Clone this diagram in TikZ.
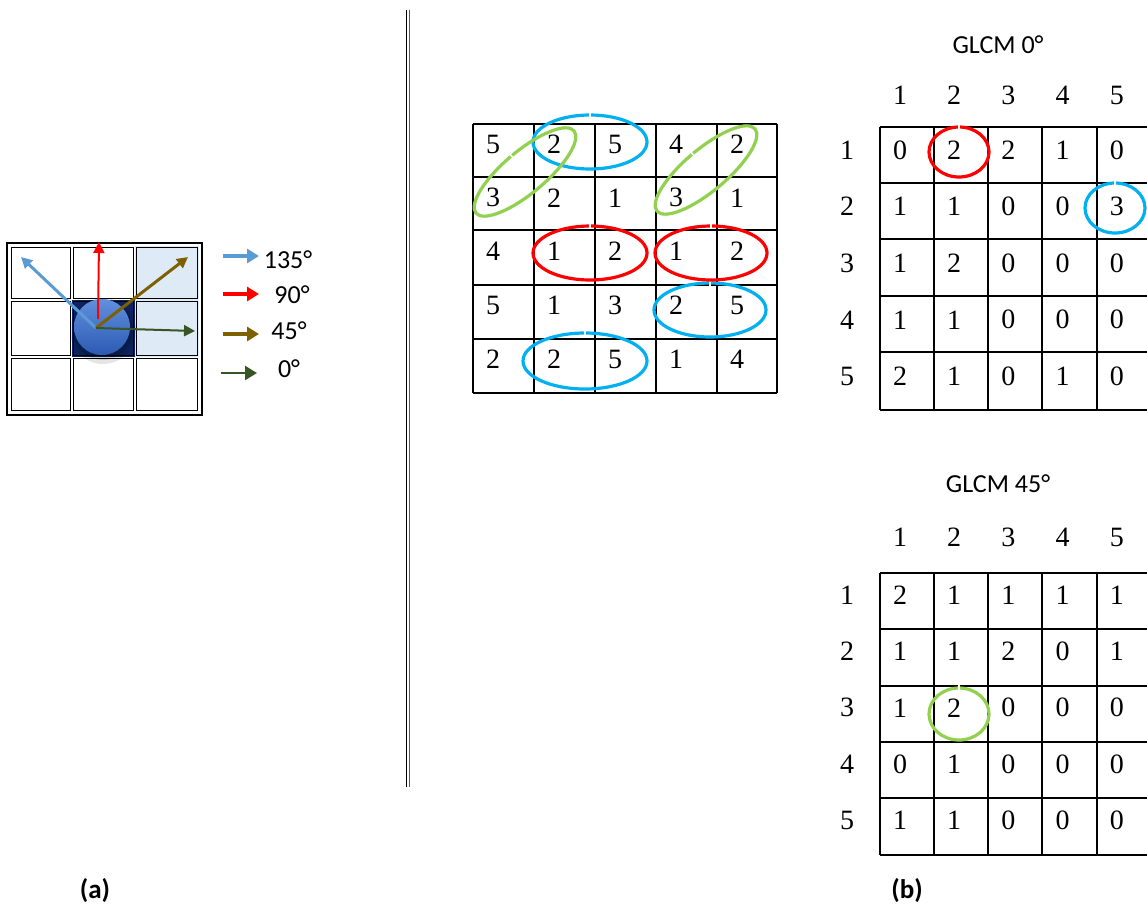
\documentclass[tikz,border=0pt]{standalone}
\usepackage{fontspec}
\setmainfont{Liberation Serif}
\newfontfamily\calfont{Carlito}
\usetikzlibrary{arrows.meta}
\definecolor{arrblue}{HTML}{5B9BD5}
\definecolor{arrbrown}{HTML}{7F6000}
\definecolor{arrgreen}{HTML}{375623}
\definecolor{ringblue}{HTML}{00B0F0}
\definecolor{ringgreen}{HTML}{92D050}
\definecolor{cellblue}{HTML}{DEEAF6}
\definecolor{cellnavy}{HTML}{0C2461}
\definecolor{balltop}{HTML}{6190DC}
\definecolor{ballbot}{HTML}{2C5AB4}

\begin{document}
\begin{tikzpicture}[x=1pt,y=-1pt,
  numtxt/.style={font=\fontsize{28}{32}\selectfont, inner sep=0pt},
  captxt/.style={font=\calfont\fontsize{26}{30}\selectfont, inner sep=0pt},
  subtxt/.style={font=\calfont\bfseries\fontsize{27}{31}\selectfont, inner sep=0pt},
  ring/.style={line width=3.2pt},
  ringgap/.style={white,line width=1.6pt},
  gridarrow/.style={-{Triangle[length=11pt,width=11pt]}},
  keyarrow/.style={line width=4pt,-{Triangle[length=12pt,width=14pt]}}]
		\useasboundingbox (0,0) rectangle (1147,908);
		\clip (0,0) rectangle (1147,908);

		% (a) the 3x3 neighbourhood with its four directions
		\fill[cellblue] (135,246) rectangle (199,357);
		\fill[cellnavy] (72,300) rectangle (135,357);
		\draw[line width=1.5pt] (7,243) rectangle (202,415);
		\foreach \xa/\xb in {10/72,72/135,135/199}
			\foreach \ya/\yb in {246/300,300/357,357/412}
				\draw[line width=1.2pt] (\xa+1.2,\ya+1.2) rectangle (\xb-1.2,\yb-1.2);

		% the pixel in the middle
		\fill[black,opacity=0.10] (103,331) circle[radius=33];
		\fill[black,opacity=0.12] (103,330) circle[radius=30];
		\shade[top color=balltop, bottom color=ballbot] (102,327) circle[radius=28];

		% direction arrows from the centre
		\draw[gridarrow,arrblue,line width=3pt] (96,328) -- (21,257);
		\draw[gridarrow,red,line width=2pt] (98,319) -- (99,242);
		\draw[gridarrow,arrbrown,line width=3pt] (96,328) -- (188,257);
		\draw[gridarrow,arrgreen,line width=2pt] (96,328) -- (195,331);

		% legend of the arrows
		\draw[keyarrow,arrblue] (223,256) -- (259,256);
		\node[captxt] (leg135) at (288,260) {135°};
		\draw[keyarrow,red] (223,294) -- (259,294);
		\node[captxt] (leg90) at (292,295) {90°};
		\draw[keyarrow,arrbrown] (223,334) -- (259,334);
		\node[captxt] (leg45) at (289,331) {45°};
		\draw[keyarrow,arrgreen,line width=2.5pt] (221,373) -- (257,373);
		\node[captxt] (leg0) at (289,369) {0°};

		\node[subtxt] (capa) at (95,891) {(a)};

		% separator
		\draw[line width=1.4pt] (406.5,10) -- (406.5,787);
		\draw[line width=1.4pt,black!65] (409.5,10) -- (409.5,787);

		% (b) the image matrix
		\foreach \xx in {473,534,595,656,717,777}
			\draw[line width=1.3pt] (\xx,124) -- (\xx,393);
		\foreach \yy in {124,177,230,285,339,393}
			\draw[line width=1.3pt] (473,\yy) -- (777,\yy);
		\foreach \row [count=\r] in {{5,2,5,4,2},{3,2,1,3,1},{4,1,2,1,2},{5,1,3,2,5},{2,2,5,1,4}}
			\foreach \v [count=\c] in \row
				\node[numtxt] (img-\r-\c) at ({473+61*(\c-1)+20},{124+53.8*(\r-1)+20}) {\v};

		% pairs that are counted
		\foreach \cx/\cy/\rx/\ry/\col in {590/142/57/27/ringblue,710/310/56/27/ringblue,585/361/62/28/ringblue,590/253/57/27/red,711/253/56/27/red} {
			\draw[ring,\col] (\cx,\cy) ellipse[x radius=\rx,y radius=\ry];
			\draw[ringgap] (\cx,\cy-\ry-3) -- (\cx,\cy-\ry+3);
		}
		\foreach \cx/\cy in {525/172,706/170} {
			\draw[ring,ringgreen,rotate around={40:(\cx,\cy)}] (\cx,\cy) ellipse[x radius=64,y radius=21];
			\draw[ringgap,rotate around={40:(\cx,\cy)}] (\cx,\cy-18) -- (\cx,\cy-24);
		}

		% GLCM 0 degrees
		\node[captxt] (t0) at (998,45) {GLCM 0°};
		\foreach \c in {1,...,5} {
			\node[numtxt] (g0-col-\c) at ({900+54.2*(\c-1)},95) {\c};
			\node[numtxt] (g0-row-\c) at (847,{150+56.6*(\c-1)}) {\c};
		}
		\foreach \xx in {880,934,988,1042,1097,1151}
			\draw[line width=1.3pt] (\xx,127) -- (\xx,410);
		\foreach \yy in {127,183,239,296,352,410}
			\draw[line width=1.3pt] (880,\yy) -- (1151,\yy);
		\foreach \row [count=\r] in {{0,2,2,1,0},{1,1,0,0,3},{1,2,0,0,0},{1,1,0,0,0},{2,1,0,1,0}}
			\foreach \v [count=\c] in \row
				\node[numtxt] (g0-\r-\c) at ({900+54.2*(\c-1)},{150+56.6*(\r-1)}) {\v};
		\draw[ring,red] (959,152) ellipse[x radius=30,y radius=25];
		\draw[ringgap] (959,124) -- (959,130);
		\draw[ring,ringblue] (1115,208) ellipse[x radius=30,y radius=25];
		\draw[ringgap] (1115,180) -- (1115,186);

		% GLCM 45 degrees
		\node[captxt] (t45) at (998,484) {GLCM 45°};
		\foreach \c in {1,...,5} {
			\node[numtxt] (g45-col-\c) at ({900+54.2*(\c-1)},537) {\c};
			\node[numtxt] (g45-row-\c) at (847,{595+56.4*(\c-1)}) {\c};
		}
		\foreach \xx in {880,934,988,1042,1097,1151}
			\draw[line width=1.3pt] (\xx,573) -- (\xx,855);
		\foreach \yy in {573,629,686,742,798,855}
			\draw[line width=1.3pt] (880,\yy) -- (1151,\yy);
		\foreach \row [count=\r] in {{2,1,1,1,1},{1,1,2,0,1},{1,2,0,0,0},{0,1,0,0,0},{1,1,0,0,0}}
			\foreach \v [count=\c] in \row
				\node[numtxt] (g45-\r-\c) at ({900+54.2*(\c-1)},{595+56.4*(\r-1)}) {\v};
		\draw[ring,ringgreen] (959,714) ellipse[x radius=30,y radius=26];
		\draw[ringgap] (959,685) -- (959,691);

		\node[subtxt] (capb) at (907,891) {(b)};
	\end{tikzpicture}
\end{document}
